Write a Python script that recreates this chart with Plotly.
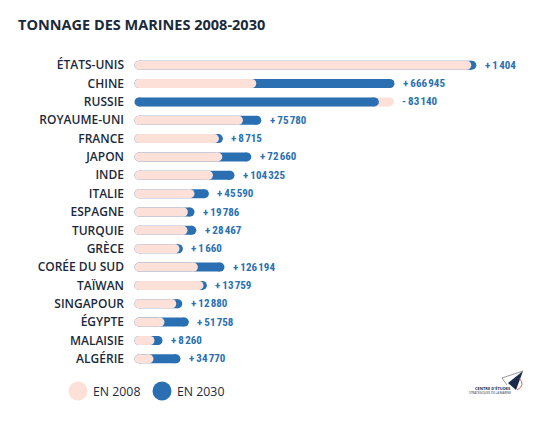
import plotly.graph_objects as go

# rough tonnage (kt), 2008 and 2030
countries = ["ÉTATS-UNIS", "CHINE", "RUSSIE", "ROYAUME-UNI", "FRANCE", "JAPON", "INDE",
             "ITALIE", "ESPAGNE", "TURQUIE", "GRÈCE", "CORÉE DU SUD", "TAÏWAN",
             "SINGAPOUR", "ÉGYPTE", "MALAISIE", "ALGÉRIE"]
tonnage_2008 = [1639, 564, 1252, 497, 377, 394, 347, 255, 222, 220, 180, 272, 300, 164, 105, 55, 50]
tonnage_2030 = [1664, 1255, 1177, 589, 397, 539, 455, 327, 255, 264, 197, 405, 317, 194, 227, 95, 185]
change_labels = ["+ 1 404", "+ 666 945", "- 83 140", "+ 75 780", "+ 8 715", "+ 72 660",
                 "+ 104 325", "+ 45 590", "+ 19 786", "+ 28 467", "+ 1 660", "+ 126 194",
                 "+ 13 759", "+ 12 880", "+ 51 758", "+ 8 260", "+ 34 770"]
legend_names = ["EN 2008", "EN 2030"]

PINK = "#fde0d8"
BLUE = "#2a6fb2"
NAVY = "#1b2a3b"
OFF = 8                     # page body margin
W, H = 550 - OFF, 423 - OFF
L, R, T, B = 139 - OFF, 11, 56 - OFF, 55


def segs(vals, keep):
    xs, ys = [], []
    for c, v, k in zip(countries, vals, keep):
        if k:
            xs += [0, v, None]
            ys += [c, c, None]
    return xs, ys


def pill(xs, ys, color):
    return go.Scatter(x=xs, y=ys, mode="lines+markers", showlegend=False,
                      line=dict(color=color, width=9),
                      marker=dict(color=color, size=9, line=dict(width=0)),
                      cliponaxis=False, hoverinfo="skip")


shrink = [a > b for a, b in zip(tonnage_2008, tonnage_2030)]
grow = [not s for s in shrink]

fig = go.Figure()
# longer pill goes underneath, shorter one on top
fig.add_trace(pill(*segs(tonnage_2008, shrink), PINK))
fig.add_trace(pill(*segs(tonnage_2030, [True] * len(countries)), BLUE))
fig.add_trace(pill(*segs(tonnage_2008, grow), PINK))

num_font = dict(family="Roboto Condensed, Roboto", size=11, color=BLUE, weight="bold")
for c, a, b, txt in zip(countries, tonnage_2008, tonnage_2030, change_labels):
    txt = txt.replace(" ", "\u2009", 1)
    txt = txt[:2] + txt[2:].replace(" ", "\u202f")
    fig.add_annotation(x=max(a, b), y=c, text=txt, showarrow=False, xanchor="left",
                       xshift=11, font=num_font)


def px(x, y):
    # page pixel -> paper coords
    x, y = x - OFF, y - OFF
    return (x - L) / (W - L - R), (H - B - y) / (H - T - B)


# legend, drawn by hand so the circles sit close to the text
for name, color, cx in zip(legend_names, [PINK, BLUE], [78, 162]):
    ax, ay = px(cx, 391)
    fig.add_shape(type="circle", xref="paper", yref="paper", xsizemode="pixel", ysizemode="pixel",
                  xanchor=ax, yanchor=ay, x0=-9.5, x1=9.5, y0=-9.5, y1=9.5,
                  fillcolor=color, line=dict(width=0))
    tx, ty = px(cx + 13, 391)
    fig.add_annotation(xref="paper", yref="paper", x=tx, y=ty, text=name, showarrow=False,
                       xanchor="left", yanchor="middle",
                       font=dict(family="Open Sans", size=12.3, color=NAVY, weight=500))

# little logo bottom right
p = [px(*q) for q in [(523, 371), (508, 383), (516, 390)]]
fig.add_shape(type="path", xref="paper", yref="paper", fillcolor="#1b2a4a", line=dict(width=0),
              path="M %f %f L %f %f L %f %f Z" % (p[0][0], p[0][1], p[1][0], p[1][1], p[2][0], p[2][1]))
p = [px(*q) for q in [(523, 371), (502, 378), (507, 385)]]
fig.add_shape(type="path", xref="paper", yref="paper", line=dict(width=0.6, color="#555"),
              path="M %f %f L %f %f L %f %f" % (p[0][0], p[0][1], p[1][0], p[1][1], p[2][0], p[2][1]))
p = [px(*q) for q in [(519, 378), (526, 385), (517, 390)]]
fig.add_shape(type="path", xref="paper", yref="paper", line=dict(width=0.8, color="#d8342a"),
              path="M %f %f Q %f %f %f %f" % (p[0][0], p[0][1], p[1][0], p[1][1], p[2][0], p[2][1]))
lx, ly = px(513, 393)
fig.add_annotation(xref="paper", yref="paper", x=lx, y=ly, text="<b>CENTRE D'ÉTUDES</b>",
                   showarrow=False, font=dict(size=4, color=NAVY, family="Open Sans"))
lx, ly = px(513, 397.5)
fig.add_annotation(xref="paper", yref="paper", x=lx, y=ly, text="STRATÉGIQUES DE LA MARINE",
                   showarrow=False, font=dict(size=3, color=NAVY, family="Open Sans"))

fig.update_layout(
    width=W, height=H,
    margin=dict(l=L, r=R, t=T, b=B, autoexpand=False),
    paper_bgcolor="white",
    plot_bgcolor="white",
    showlegend=False,
    title=dict(text="<b>TONNAGE DES MARINES 2008-2030</b>", x=(18 - OFF) / W, xanchor="left",
               y=1 - (25 - OFF) / H, yanchor="middle", pad=dict(l=0),
               font=dict(family="Open Sans", size=14.5, color=NAVY)),
    font=dict(family="Open Sans", color=NAVY),
)
fig.update_xaxes(range=[0, 2000], visible=False, fixedrange=True)
fig.update_yaxes(categoryorder="array", categoryarray=countries, range=[16.5, -0.5],
                 showgrid=False, zeroline=False, showline=False, ticks="",
                 ticklabelstandoff=14,
                 tickfont=dict(family="Open Sans", size=12, color=NAVY, weight=600))

fig.write_html("out.html")
